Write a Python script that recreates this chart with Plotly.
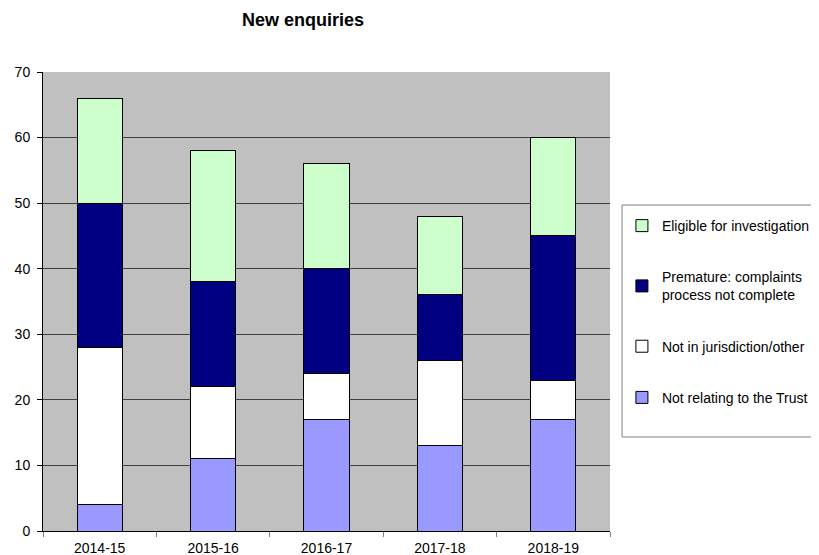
import plotly.graph_objects as go

categories = ["2014-15", "2015-16", "2016-17", "2017-18", "2018-19"]
not_relating = [4, 11, 17, 13, 17]
not_jurisdiction = [24, 11, 7, 13, 6]
premature = [22, 16, 16, 10, 22]
eligible = [16, 20, 16, 12, 15]

series = [
    ("Not relating to the Trust", not_relating, "#9999FF"),
    ("Not in jurisdiction/other", not_jurisdiction, "#FFFFFF"),
    ("Premature: complaints<br>process not complete", premature, "#000080"),
    ("Eligible for investigation", eligible, "#CCFFCC"),
]

fig = go.Figure()
for i, (name, vals, col) in enumerate(series):
    fig.add_trace(go.Bar(
        x=categories, y=vals, name=name, legendgroup=str(i),
        legendrank=10 - i,
        marker=dict(color=col, line=dict(color="#000000", width=1)),
        width=0.4,
    ))

W, H = 811, 547
# legend frame (drawn as a paper-referenced box)
fig.add_shape(type="rect", xref="paper", yref="paper",
              x0=1.0212, x1=1.6, y0=0.2048, y1=0.7102,
              line=dict(color="#808080", width=1), fillcolor="white", layer="below")

fig.update_layout(
    barmode="stack",
    width=W, height=H,
    margin=dict(l=35, r=209, t=64, b=24, autoexpand=False),
    paper_bgcolor="white",
    plot_bgcolor="#C0C0C0",
    font=dict(family="Liberation Sans, Arial, sans-serif", size=14, color="#000000"),
    title=dict(text="<b>New enquiries</b>", x=295/W, xref="container", xanchor="center",
               y=1 - 12/H, yref="container", yanchor="middle",
               font=dict(size=18, color="#000000")),
    showlegend=True,
    legend=dict(
        x=1.021, xanchor="left", y=0.6993, yanchor="top",
        bgcolor="rgba(0,0,0,0)", borderwidth=0,
        tracegroupgap=30,
        font=dict(size=14),
    ),
    bargap=0.6,
)
fig.update_xaxes(
    type="category", showline=True, linecolor="#000000", linewidth=1,
    ticks="outside", tickson="boundaries", ticklen=5, tickcolor="#808080",
    showgrid=False, tickfont=dict(size=14), automargin=False, ticklabelstandoff=4,
)
fig.update_yaxes(
    range=[0, 70], dtick=10, showline=True, linecolor="#000000", linewidth=1,
    ticks="outside", ticklen=5, tickcolor="#000000",
    showgrid=True, gridcolor="#404040", gridwidth=1, zeroline=False,
    tickfont=dict(size=14), automargin=False, ticklabelstandoff=4,
)

fig.write_html("out.html")
